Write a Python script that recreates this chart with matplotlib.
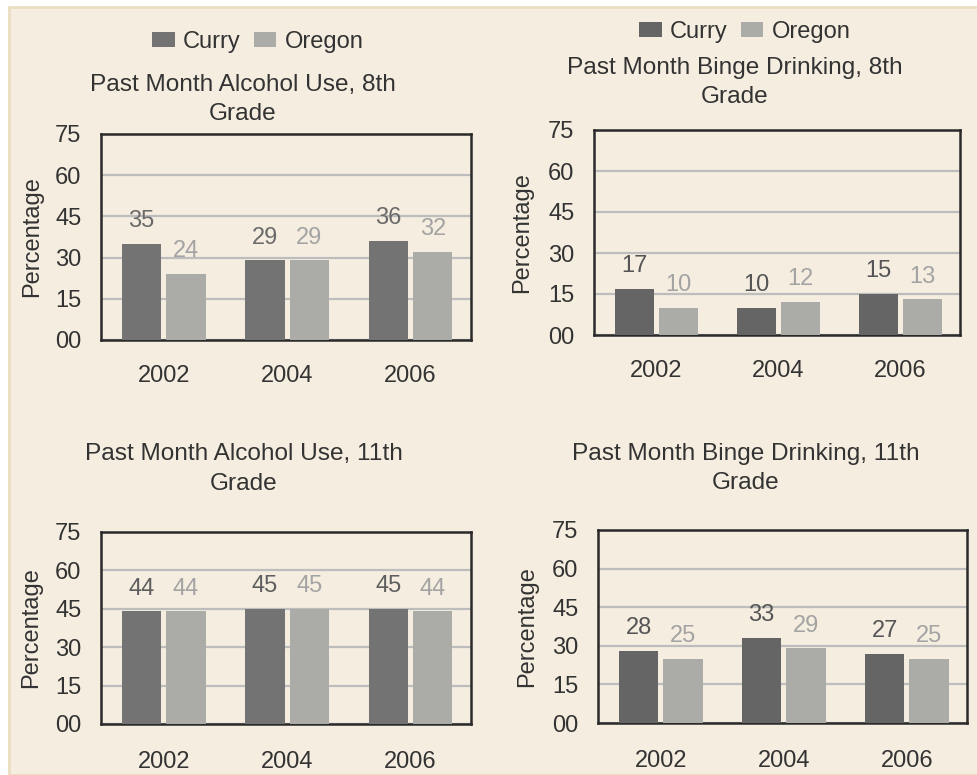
import matplotlib
matplotlib.use("Agg")
import matplotlib.pyplot as plt
from matplotlib.patches import Rectangle
import numpy as np

plt.rcParams['font.family'] = ['Liberation Sans', 'DejaVu Sans']

years = ["2002", "2004", "2006"]
series_names = ["Curry", "Oregon"]
titles = ["Past Month Alcohol Use, 8th\nGrade",
          "Past Month Binge Drinking, 8th\nGrade",
          "Past Month Alcohol Use, 11th\nGrade",
          "Past Month Binge Drinking, 11th\nGrade"]
curry_alc8 = [35, 29, 36]
oregon_alc8 = [24, 29, 32]
curry_binge8 = [17, 10, 15]
oregon_binge8 = [10, 12, 13]
curry_alc11 = [44, 45, 45]
oregon_alc11 = [44, 45, 44]
curry_binge11 = [28, 33, 27]
oregon_binge11 = [25, 29, 25]
yticks = [0, 15, 30, 45, 60, 75]
ytick_labels = ["00", "15", "30", "45", "60", "75"]

FS = 17
W, H = 978, 775
fig = plt.figure(figsize=(W / 100, H / 100), dpi=100, facecolor="white")
bg = "#F5EEE0"
fig.patches.append(Rectangle((9 / W, 0), 1 - 9 / W, (H - 7) / H, transform=fig.transFigure,
                             facecolor=bg, edgecolor="#EBDDBF", linewidth=2, zorder=-10))

# axes boxes in pixel coords (left, top, right, bottom)
boxes = [(101, 134, 471, 340), (594, 130, 960, 335),
         (101, 532, 471, 724), (598, 530, 967, 723)]
title_pos = [(243, 99.5), (735, 82.5), (244, 469), (746, 468.5)]
ylabel_x = [-0.157, -0.167, -0.159, -0.163]
xpad = [18, 18, 19.5, 19.5]
data = [(curry_alc8, oregon_alc8), (curry_binge8, oregon_binge8),
        (curry_alc11, oregon_alc11), (curry_binge11, oregon_binge11)]
curry_cols = ["#737373", "#656565", "#737373", "#656565"]
curry_lab_cols = ["#6A6A6A", "#555555", "#5E5E5E", "#555555"]
oregon_col = "#ABABA7"
legend_pos = [(258, 42), (745, 32), None, None]

for i, ((l, t, r, b), (cv, ov)) in enumerate(zip(boxes, data)):
    ax = fig.add_axes([l / W, 1 - b / H, (r - l) / W, (b - t) / H])
    ax.set_facecolor(bg)
    x = np.arange(len(years))
    w = 0.32
    bc = ax.bar(x - 0.18, cv, w, color=curry_cols[i], label=series_names[0], zorder=3)
    bo = ax.bar(x + 0.18, ov, w, color=oregon_col, label=series_names[1], zorder=3)
    for rect, v in zip(bc, cv):
        ax.annotate(str(v), (rect.get_x() + rect.get_width() / 2, v), xytext=(0, 8.5),
                    textcoords="offset points", ha="center", va="bottom",
                    fontsize=FS, color=curry_lab_cols[i], zorder=4)
    for rect, v in zip(bo, ov):
        ax.annotate(str(v), (rect.get_x() + rect.get_width() / 2, v), xytext=(0, 8.5),
                    textcoords="offset points", ha="center", va="bottom",
                    fontsize=FS, color="#A3A3A3", zorder=4)
    ax.set_ylim(0, 75)
    ax.set_xlim(-0.51, 2.49)
    ax.set_yticks(yticks)
    ax.set_yticklabels(ytick_labels)
    ax.set_xticks(x)
    ax.set_xticklabels(years)
    ax.tick_params(axis="both", length=0, labelsize=FS, colors="#333333")
    ax.tick_params(axis="x", pad=xpad[i])
    ax.tick_params(axis="y", pad=14)
    ax.yaxis.grid(True, color="#BDBDBD", linewidth=1.6, zorder=1)
    ax.set_axisbelow(True)
    for s in ax.spines.values():
        s.set_color("#2A2A2A")
        s.set_linewidth(1.8)
    ax.set_ylabel("Percentage", fontsize=FS, color="#333333")
    ax.yaxis.set_label_coords(ylabel_x[i], 0.5)
    tx, ty = title_pos[i]
    fig.text(tx / W, 1 - ty / H, titles[i], fontsize=17.6, color="#333333", ha="center",
             va="center", multialignment="center", linespacing=1.45)
    if legend_pos[i] is not None:
        lx, ly = legend_pos[i]
        leg = fig.legend(handles=[bc, bo], loc="center", bbox_to_anchor=(lx / W, 1 - ly / H),
                         ncol=2, frameon=False, fontsize=FS, handlelength=0.95, handleheight=0.63,
                         handletextpad=0.35, columnspacing=0.55, borderpad=0, borderaxespad=0)
        for txt in leg.get_texts():
            txt.set_color("#333333")

fig.savefig("out.png", dpi=100, facecolor=fig.get_facecolor())
